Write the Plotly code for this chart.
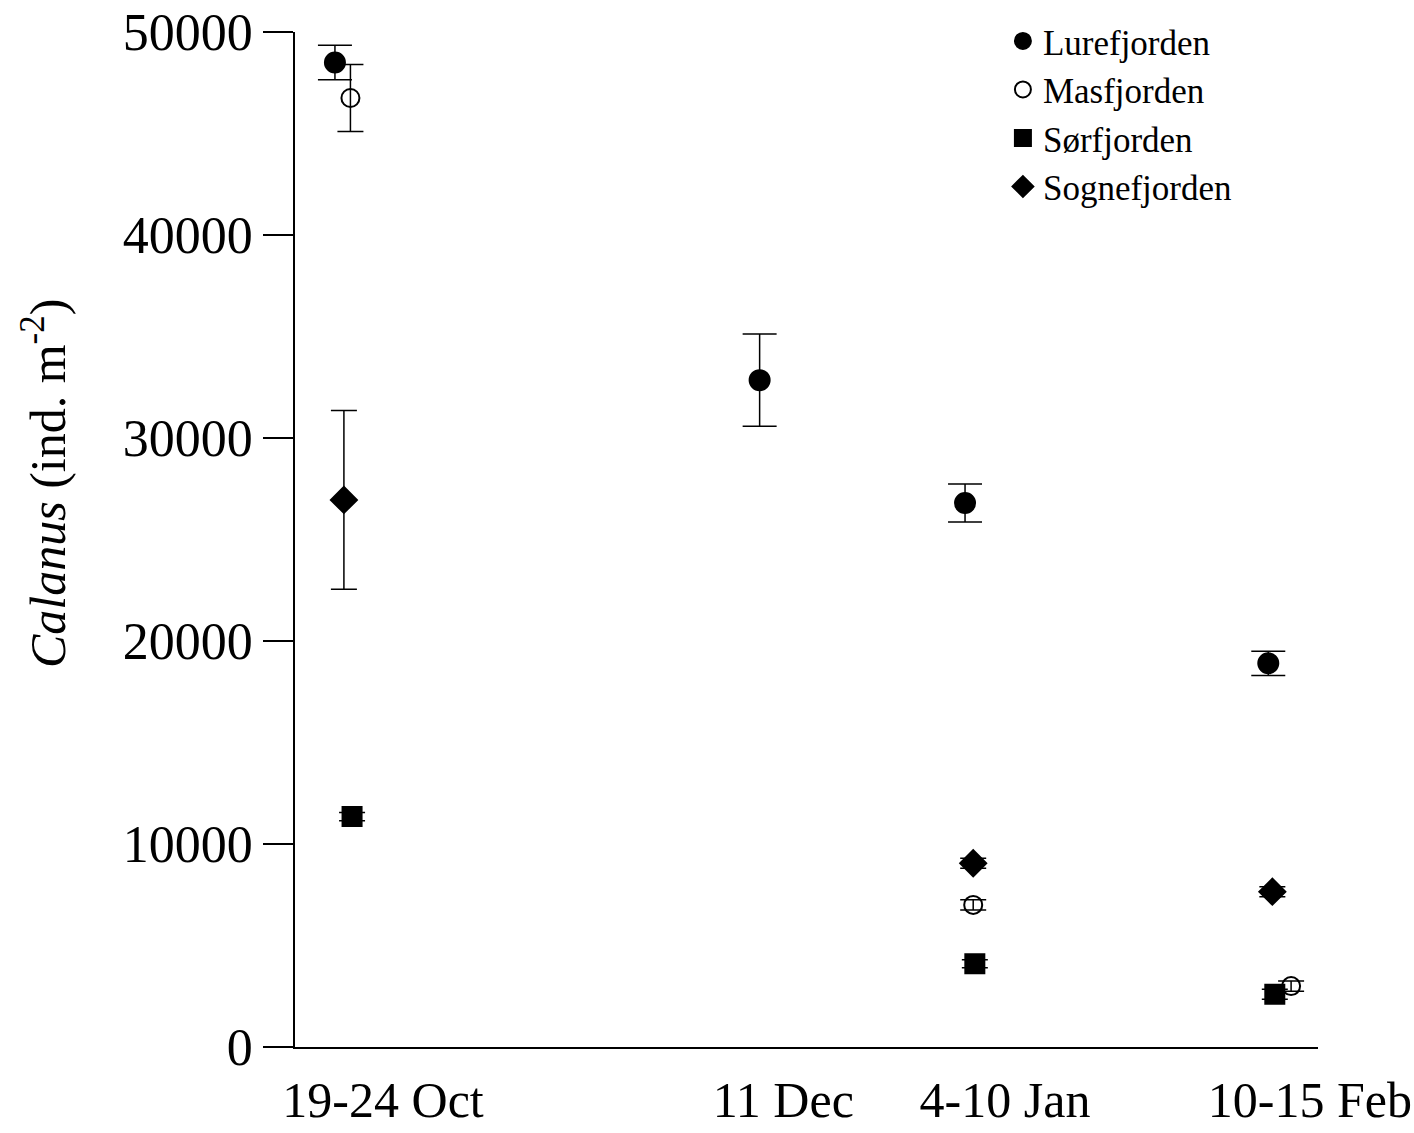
import plotly.graph_objects as go

# x positions: days after 1 October (sampling dates, slightly offset per fjord)
lure_x = [19.4, 71.5, 96.7, 133.9]
lure_y = [48500, 32850, 26800, 18900]
lure_err = [850, 2270, 940, 600]

mas_x = [21.3, 97.7, 136.7]
mas_y = [46750, 7000, 3000]
mas_err = [1650, 250, 250]

sor_x = [21.5, 97.9, 134.7]
sor_y = [11350, 4100, 2600]
sor_err = [200, 200, 250]

sogne_x = [20.5, 97.7, 134.4]
sogne_y = [26950, 9050, 7650]
sogne_err = [4400, 250, 250]

tick_pos = [25.3, 74.4, 101.6, 139.0]
tick_text = ["19-24 Oct", "11 Dec", "4-10 Jan", "10-15 Feb"]
y_ticks = [0, 10000, 20000, 30000, 40000, 50000]
y_title = "<i>Calanus</i> (ind. m<sup>-2</sup>)"

SERIF = "Liberation Serif, Times New Roman, serif"

fig = go.Figure()

def add(name, x, y, err, symbol, size, fill, cap):
    fig.add_trace(go.Scatter(
        x=x, y=y, mode="markers", name=name,
        marker=dict(symbol=symbol, size=size, color=fill,
                    line=dict(color="black", width=2)),
        error_y=dict(type="data", array=err, visible=True, color="black",
                     thickness=1.5, width=cap),
        cliponaxis=False,
    ))

add("Lurefjorden", lure_x, lure_y, lure_err, "circle", 20, "black", 17)
add("Masfjorden", mas_x, mas_y, mas_err, "circle-open", 18, "black", 13)
add("Sørfjorden", sor_x, sor_y, sor_err, "square", 19, "black", 13)
add("Sognefjorden", sogne_x, sogne_y, sogne_err, "diamond", 20, "black", 13)

fig.update_layout(
    width=1414, height=1133,
    margin=dict(l=295, r=96, t=32, b=86),
    paper_bgcolor="white", plot_bgcolor="white",
    font=dict(family=SERIF, color="black", size=36),
    showlegend=True,
    legend=dict(x=0.692, y=1.02, xanchor="left", yanchor="top",
                font=dict(family=SERIF, size=35), bgcolor="rgba(0,0,0,0)",
                tracegroupgap=0, itemsizing="trace"),
    annotations=[dict(text=y_title, xref="paper", yref="paper",
                      x=-0.245, y=0.555, xanchor="center", yanchor="middle",
                      textangle=-90, showarrow=False,
                      font=dict(family=SERIF, size=50))],
)

fig.update_xaxes(
    range=[14.5, 140], tickvals=tick_pos, ticktext=tick_text, tickangle=0,
    showline=True, linecolor="black", linewidth=1.5,
    ticks="", showgrid=False, zeroline=False, automargin=False,
    tickfont=dict(family=SERIF, size=50), ticklabelstandoff=8,
)
fig.update_yaxes(
    range=[0, 50000], tickvals=y_ticks, ticktext=[str(v) for v in y_ticks],
    showline=True, linecolor="black", linewidth=1.5,
    ticks="outside", ticklen=30, tickwidth=1.5, tickcolor="black",
    showgrid=False, zeroline=False, automargin=False,
    tickfont=dict(family=SERIF, size=52),
)

fig.write_html("out.html")
